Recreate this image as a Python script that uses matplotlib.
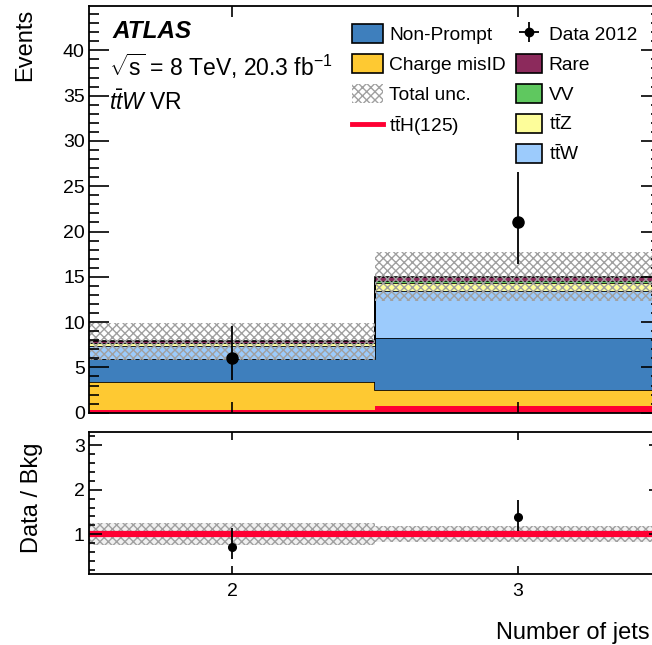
import numpy as np
import matplotlib
matplotlib.use("Agg")
import matplotlib.pyplot as plt
from matplotlib.patches import Patch
from matplotlib.lines import Line2D
from matplotlib.ticker import MultipleLocator, FixedLocator

plt.rcParams["font.family"] = ["Liberation Sans", "DejaVu Sans"]
plt.rcParams["mathtext.fontset"] = "custom"
plt.rcParams["mathtext.rm"] = "Liberation Sans"
plt.rcParams["mathtext.it"] = "Liberation Sans:italic"
plt.rcParams["mathtext.bf"] = "Liberation Sans:bold"
plt.rcParams["hatch.linewidth"] = 1.0

# bins: number of jets
edges = [1.5, 2.5, 3.5]
centers = [2, 3]

# stacked backgrounds, bottom to top
tth = [0.35, 0.75]
charge_misid = [3.0, 1.8]
non_prompt = [2.6, 5.65]
ttw = [1.45, 5.2]
ttz = [0.25, 0.9]
vv = [0.1, 0.25]
rare = [0.15, 0.45]
total_unc = [2.05, 2.7]

# data
data = [6, 21]
data_err_lo = [2.4, 4.6]
data_err_hi = [3.6, 5.6]

# ratio panel
ratio = [0.72, 1.39]
ratio_err_lo = [0.28, 0.31]
ratio_err_hi = [0.43, 0.38]
ratio_unc = [0.25, 0.18]
ratio_tth = [1.0, 1.01]

stack = [
    ("ttH", tth, "#ff0033"),
    ("Charge misID", charge_misid, "#fec932"),
    ("Non-Prompt", non_prompt, "#3e7fbd"),
    ("ttW", ttw, "#9ccbfc"),
    ("ttZ", ttz, "#fdfd9a"),
    ("VV", vv, "#5fc85f"),
    ("Rare", rare, "#8c2a5c"),
]

W, H = 652, 645
fig = plt.figure(figsize=(W / 100, H / 100), dpi=100)
ax = fig.add_axes([89 / W, 232.3 / H, 572 / W, 406.7 / H])
rax = fig.add_axes([89 / W, 70.7 / H, 572 / W, 142.3 / H])

# stacked histogram
bottom = np.zeros(2)
for name, vals, col in stack:
    top = bottom + np.array(vals)
    ax.stairs(top, edges, baseline=bottom, fill=True, color=col, lw=0)
    if name != "ttH":
        ax.stairs(top, edges, baseline=None, color="black", lw=1.2)
    bottom = top
total = bottom
ax.stairs(total + np.array(total_unc), edges, baseline=total - np.array(total_unc),
          fill=True, facecolor="none", edgecolor="#a0a0a0", hatch="xxxx", lw=0)

ax.errorbar(centers, data, yerr=[data_err_lo, data_err_hi], fmt="o", color="black",
            markersize=8, elinewidth=1.3, capsize=0, zorder=5)

ax.set_xlim(1.5, 3.5)
ax.set_ylim(0, 44.9)
ax.yaxis.set_major_locator(MultipleLocator(5))
ax.yaxis.set_minor_locator(MultipleLocator(1))
ax.xaxis.set_major_locator(FixedLocator(centers))
ax.set_xticklabels([])

# ratio
ones = np.ones(2)
rax.stairs(ones + np.array(ratio_unc), edges, baseline=ones - np.array(ratio_unc),
           fill=True, facecolor="#f0f0f0", edgecolor="#a0a0a0", hatch="xxxx", lw=0)
rax.stairs(ratio_tth, edges, baseline=None, color="#ff0033", lw=4.5)
rax.errorbar(centers, ratio, yerr=[ratio_err_lo, ratio_err_hi], fmt="o", color="black",
             markersize=5.5, elinewidth=1.3, capsize=0, zorder=5)
rax.set_xlim(1.5, 3.5)
rax.set_ylim(0.1, 3.3)
rax.yaxis.set_major_locator(MultipleLocator(1))
rax.yaxis.set_minor_locator(MultipleLocator(0.2))
rax.xaxis.set_major_locator(FixedLocator(centers))
rax.set_xticklabels(["2", "3"])

for a in (ax, rax):
    a.tick_params(which="both", direction="in", top=True, right=True, labelsize=14, width=1.2)
    a.tick_params(axis="x", which="major", pad=6)
    a.tick_params(axis="y", which="major", pad=3)
    for s in a.spines.values():
        s.set_linewidth(1.3)
ax.tick_params(axis="y", which="major", length=14.4)
ax.tick_params(axis="y", which="minor", length=7.2)
ax.tick_params(axis="x", which="major", length=8)
rax.tick_params(axis="y", which="major", length=9)
rax.tick_params(axis="y", which="minor", length=4.5)
rax.tick_params(axis="x", which="major", length=5.5)

# axis titles
fig.text(25 / W, 1 - 9 / H, "Events", rotation=90, fontsize=17, ha="center", va="top")
fig.text(32 / W, 1 - 498 / H, "Data / Bkg", rotation=90, fontsize=17, ha="center", va="center")
fig.text(650 / W, 1 - 633 / H, "Number of jets", fontsize=17, ha="right", va="center")

# text
fig.text(112 / W, 1 - 32 / H, "ATLAS", fontsize=17.5, fontweight="bold",
         fontstyle="italic", va="center")
fig.text(109 / W, 1 - 66 / H, r"$\sqrt{\mathrm{s}}$ = 8 TeV, 20.3 fb$^{\mathrm{-1}}$",
         fontsize=16.5, va="center")
fig.text(109 / W, 1 - 103 / H, r"$t\bar{t}W$ VR", fontsize=16.5, va="center")

# legends
hatch_h = Patch(facecolor="white", edgecolor="#a0a0a0", hatch="xxxx", lw=0)
left_h = [
    Patch(facecolor="#3e7fbd", edgecolor="black", lw=1.2),
    Patch(facecolor="#fec932", edgecolor="black", lw=1.2),
    hatch_h,
    Line2D([], [], color="#ff0033", lw=3.5),
]
left_l = ["Non-Prompt", "Charge misID", "Total unc.", r"$\mathrm{t\bar{t}H(125)}$"]
data_h = ax.errorbar([np.nan], [np.nan], xerr=[1], yerr=[1], fmt="o", color="black",
                     markersize=6, elinewidth=1.3, capsize=0)
right_h = [
    data_h,
    Patch(facecolor="#8c2a5c", edgecolor="black", lw=1.2),
    Patch(facecolor="#5fc85f", edgecolor="black", lw=1.2),
    Patch(facecolor="#fdfd9a", edgecolor="black", lw=1.2),
    Patch(facecolor="#9ccbfc", edgecolor="black", lw=1.2),
]
right_l = ["Data 2012", "Rare", "VV", r"$\mathrm{t\bar{t}Z}$", r"$\mathrm{t\bar{t}W}$"]

kw = dict(frameon=False, fontsize=13.8, handleheight=1.15,
          labelspacing=0.52, handletextpad=0.35, borderpad=0, borderaxespad=0,
          bbox_transform=fig.transFigure, loc="upper left")
leg1 = ax.legend(left_h, left_l, bbox_to_anchor=(352 / W, 1 - 24 / H), handlelength=1.6, **kw)
ax.add_artist(leg1)
ax.legend(right_h, right_l, bbox_to_anchor=(516 / W, 1 - 24 / H), handlelength=1.35, **kw)

fig.savefig("out.png", dpi=100)
